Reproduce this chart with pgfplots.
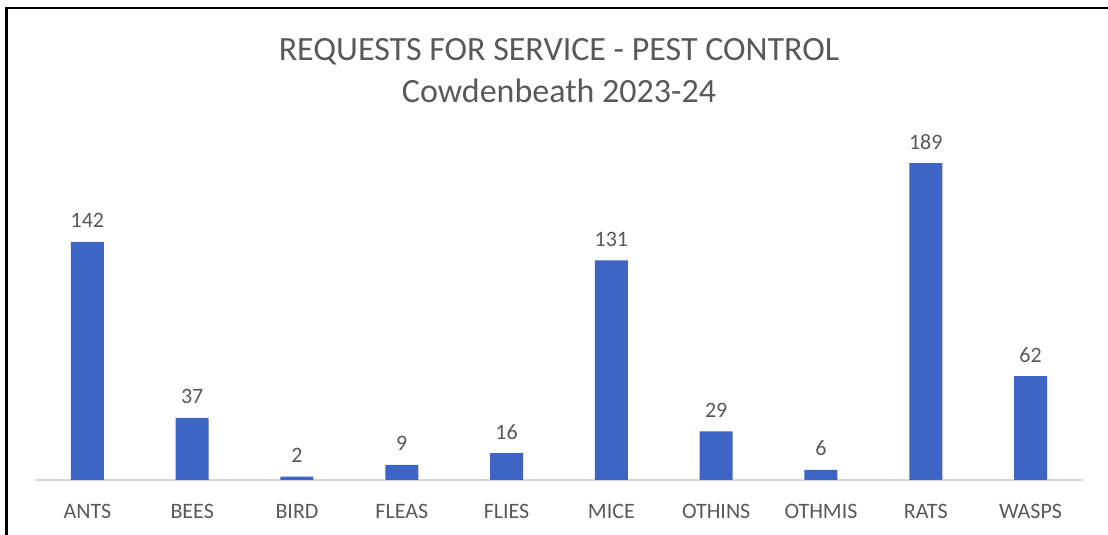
\documentclass[border=0pt]{standalone}
\usepackage{pgfplots}
\pgfplotsset{compat=1.18}
\usepackage{fontspec}
\setmainfont{Carlito}
\definecolor{barblue}{RGB}{62,100,198}
\definecolor{txtgray}{RGB}{89,89,89}
\definecolor{basegray}{RGB}{217,217,217}
\begin{document}
\begin{tikzpicture}[x=1pt,y=1pt]
\useasboundingbox (0,0) rectangle (1108,535);
\draw[black,line width=2.2pt] (6.5,0) -- (6.5,527) -- (1108,527);
\node[txtgray,font=\fontsize{34}{40}\selectfont,anchor=base] at (559,474) {REQUESTS FOR SERVICE - PEST CONTROL};
\node[txtgray,font=\fontsize{34}{40}\selectfont,anchor=base] at (559,432) {Cowdenbeath 2023-24};
\begin{axis}[
  at={(35pt,55pt)}, anchor=south west,
  scale only axis, width=1048pt, height=335.4pt,
  xmin=-0.5, xmax=9.5, ymin=0, ymax=200,
  axis x line=bottom, axis y line=none,
  x axis line style={draw=basegray, line width=1.2pt, -},
  ybar, bar width=33pt,
  clip=false,
  xtick=data,
  major tick length=0pt,
  /pgf/number format/assume math mode=true,
  xticklabels={ANTS,BEES,BIRD,FLEAS,FLIES,MICE,OTHINS,OTHMIS,RATS,WASPS},
  xticklabel style={font=\fontsize{22}{26}\selectfont, text=txtgray, anchor=base, yshift=-38pt},
  nodes near coords,
  every node near coord/.style={font=\fontsize{22}{26}\selectfont, text=txtgray, anchor=base, yshift=14pt},
]
\addplot[fill=barblue, draw=none] coordinates {
(0,142) (1,37) (2,2) (3,9) (4,16) (5,131) (6,29) (7,6) (8,189) (9,62)};
\end{axis}
\end{tikzpicture}
\end{document}
